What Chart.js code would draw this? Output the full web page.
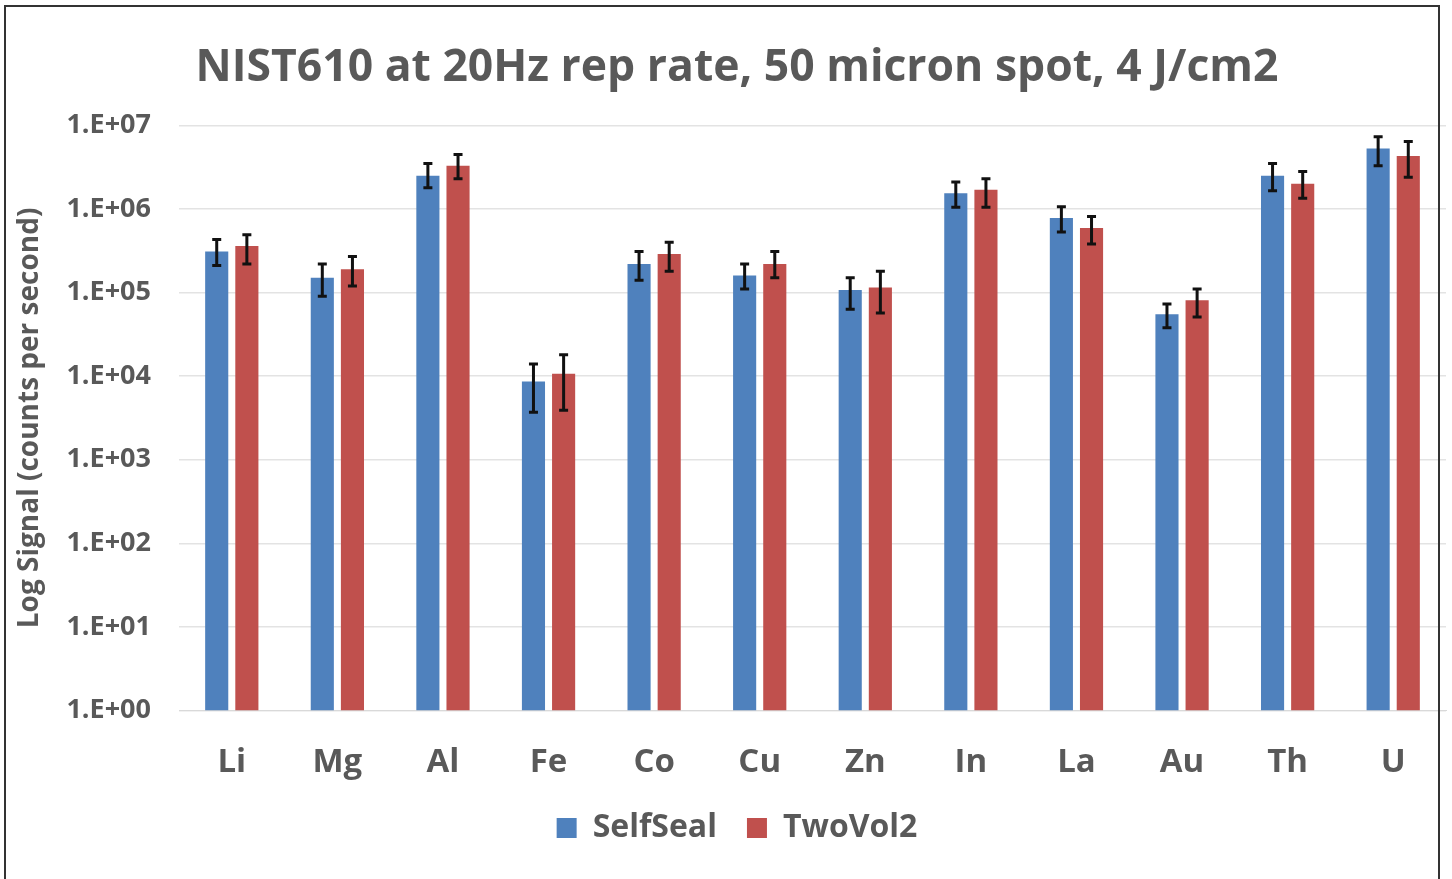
<!DOCTYPE html>
<html>
<head>
<meta charset="utf-8">
<script src="https://cdn.jsdelivr.net/npm/chart.js@4"></script>
<style>
  html, body { margin: 0; padding: 0; background: #fff; }
  #wrap { position: absolute; left: 0; top: 0; width: 1452px; height: 879px; }
  #frame { position: absolute; left: 4px; top: 5px; width: 1436px; height: 890px;
           border: 2px solid #333; box-sizing: border-box; pointer-events: none; }
</style>
</head>
<body>
<div id="wrap"><canvas id="chart"></canvas></div>
<div id="frame"></div>
<script>
const categories = ['Li', 'Mg', 'Al', 'Fe', 'Co', 'Cu', 'Zn', 'In', 'La', 'Au', 'Th', 'U'];

const selfSeal     = [3.1e5, 1.5e5, 2.5e6, 8.6e3, 2.2e5, 1.6e5, 1.07e5, 1.54e6, 7.8e5, 5.5e4, 2.5e6, 5.3e6];
const selfSealHigh = [4.3e5, 2.2e5, 3.5e6, 1.4e4, 3.1e5, 2.2e5, 1.5e5, 2.1e6, 1.06e6, 7.3e4, 3.5e6, 7.3e6];
const selfSealLow  = [2.1e5, 9.0e4, 1.8e6, 3.7e3, 1.4e5, 1.1e5, 6.3e4, 1.05e6, 5.3e5, 3.8e4, 1.65e6, 3.3e6];

const twoVol2      = [3.6e5, 1.9e5, 3.3e6, 1.07e4, 2.9e5, 2.2e5, 1.15e5, 1.7e6, 5.9e5, 8.1e4, 2.0e6, 4.3e6];
const twoVol2High  = [4.9e5, 2.7e5, 4.5e6, 1.8e4, 4.0e5, 3.1e5, 1.8e5, 2.3e6, 8.1e5, 1.1e5, 2.8e6, 6.4e6];
const twoVol2Low   = [2.2e5, 1.2e5, 2.3e6, 3.9e3, 1.8e5, 1.5e5, 5.7e4, 1.05e6, 3.8e5, 5.1e4, 1.34e6, 2.4e6];

const yTicks      = [1, 10, 100, 1e3, 1e4, 1e5, 1e6, 1e7];
const yTickLabels = ['1.E+00', '1.E+01', '1.E+02', '1.E+03', '1.E+04', '1.E+05', '1.E+06', '1.E+07'];

const textColor = '#595959';
const font = '"Open Sans", Lato, sans-serif';

// draws the black error bars over each bar
const errorBars = {
  id: 'errorBars',
  afterDatasetsDraw(chart) {
    const ctx = chart.ctx;
    const y = chart.scales.y;
    ctx.save();
    ctx.strokeStyle = '#111';
    ctx.lineWidth = 3;
    chart.data.datasets.forEach((ds, di) => {
      const meta = chart.getDatasetMeta(di);
      meta.data.forEach((bar, i) => {
        const top = y.getPixelForValue(ds.errHigh[i]);
        const bottom = y.getPixelForValue(ds.errLow[i]);
        ctx.beginPath();
        ctx.moveTo(bar.x, top);
        ctx.lineTo(bar.x, bottom);
        ctx.moveTo(bar.x - 4.5, top);
        ctx.lineTo(bar.x + 4.5, top);
        ctx.moveTo(bar.x - 4.5, bottom);
        ctx.lineTo(bar.x + 4.5, bottom);
        ctx.stroke();
      });
    });
    ctx.restore();
  }
};

new Chart(document.getElementById('chart'), {
  type: 'bar',
  data: {
    labels: categories,
    datasets: [
      { label: 'SelfSeal', data: selfSeal, errHigh: selfSealHigh, errLow: selfSealLow,
        backgroundColor: '#4F81BD' },
      { label: 'TwoVol2', data: twoVol2, errHigh: twoVol2High, errLow: twoVol2Low,
        backgroundColor: '#C0504D' }
    ]
  },
  options: {
    responsive: true,
    maintainAspectRatio: false,
    animation: false,
    categoryPercentage: 0.571,
    barPercentage: 0.767,
    layout: { padding: { left: 28, right: 6, top: 0, bottom: 25 } },
    plugins: {
      title: {
        display: true,
        text: 'NIST610 at 20Hz rep rate, 50 micron spot, 4 J/cm2',
        color: textColor,
        font: { family: font, size: 44.5, weight: 'bold' },
        padding: { top: 42, bottom: 30 }
      },
      legend: {
        position: 'bottom',
        labels: {
          color: textColor,
          font: { family: font, size: 32, weight: 'bold' },
          boxWidth: 20,
          boxHeight: 20,
          padding: 30
        }
      },
      tooltip: { enabled: false }
    },
    scales: {
      x: {
        grid: { display: false },
        border: { display: true, color: '#d9d9d9' },
        afterFit: (axis) => { axis.height -= 24; },
        ticks: { color: textColor, font: { family: font, size: 33, weight: 'bold' }, padding: 24, maxRotation: 0 }
      },
      y: {
        type: 'logarithmic',
        min: 1,
        max: 1e7,
        afterBuildTicks: (axis) => { axis.ticks = yTicks.map(v => ({ value: v })); },
        afterFit: (axis) => { axis.width = 151; },
        grid: { color: '#e3e3e3', lineWidth: 1.5, drawTicks: false },
        border: { display: false },
        ticks: {
          color: textColor,
          font: { family: font, size: 27, weight: 'bold' },
          padding: 28,
          callback: (v) => yTickLabels[yTicks.indexOf(v)]
        },
        title: {
          display: true,
          text: 'Log Signal (counts per second)',
          color: textColor,
          font: { family: font, size: 28, weight: 'bold' },
          padding: { top: -15, bottom: 0 }
        }
      }
    }
  },
  plugins: [errorBars]
});
</script>
</body>
</html>
